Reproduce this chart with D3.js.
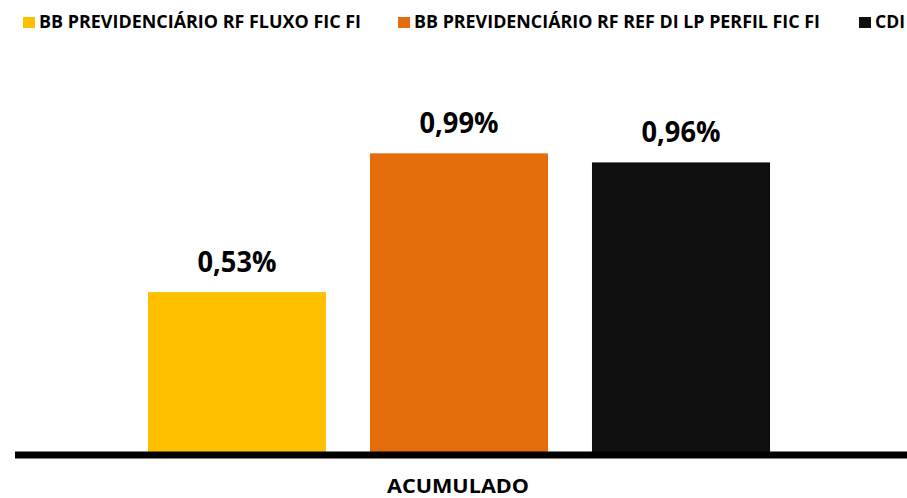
<!DOCTYPE html>
<html>
<head>
<meta charset="utf-8">
<script src="https://cdn.jsdelivr.net/npm/d3@7"></script>
<style>
  body { margin: 0; background: #fff; }
  svg { display: block; font-family: "Open Sans", "Liberation Sans", sans-serif; }
</style>
</head>
<body>
<div id="chart"></div>
<script>
const categories = ['ACUMULADO'];
const seriesNames = ['BB PREVIDENCIÁRIO RF FLUXO FIC FI', 'BB PREVIDENCIÁRIO RF REF DI LP PERFIL FIC FI', 'CDI'];
const seriesValues = [0.53, 0.99, 0.96];
const seriesColors = ['#FFC000', '#E46C0A', '#0F0F0F'];

const width = 907, height = 498;
const svg = d3.select('#chart').append('svg')
    .attr('width', width)
    .attr('height', height);

const x0 = d3.scaleBand()
    .domain(categories)
    .range([15, 907]);

const x1 = d3.scaleBand()
    .domain(seriesNames)
    .range([126, 792])
    .paddingInner(0.198)
    .paddingOuter(0.099);

const y = d3.scaleLinear()
    .domain([0, 1.2])
    .range([452, 90]);

const fmt = v => d3.format('.2f')(v).replace('.', ',') + '%';

// bars
svg.append('g').selectAll('rect')
    .data(seriesValues)
    .join('rect')
    .attr('x', (d, i) => x1(seriesNames[i]))
    .attr('y', d => y(d))
    .attr('width', x1.bandwidth())
    .attr('height', d => y(0) - y(d))
    .attr('fill', (d, i) => seriesColors[i]);

// value labels
svg.append('g').selectAll('text')
    .data(seriesValues)
    .join('text')
    .attr('x', (d, i) => x1(seriesNames[i]) + x1.bandwidth() / 2)
    .attr('y', d => y(d) - 20)
    .attr('text-anchor', 'middle')
    .attr('font-size', 29)
    .attr('font-weight', 'bold')
    .attr('fill', '#000')
    .attr('textLength', 79)
    .attr('lengthAdjust', 'spacingAndGlyphs')
    .text(d => fmt(d));

// baseline
svg.append('line')
    .attr('x1', x0.range()[0])
    .attr('x2', x0.range()[1])
    .attr('y1', y(0) + 3)
    .attr('y2', y(0) + 3)
    .attr('stroke', '#000')
    .attr('stroke-width', 7);

// category label
svg.append('g').selectAll('text')
    .data(categories)
    .join('text')
    .attr('x', 458)
    .attr('y', 493)
    .attr('text-anchor', 'middle')
    .attr('font-size', 20)
    .attr('font-weight', 'bold')
    .attr('textLength', 142)
    .attr('lengthAdjust', 'spacingAndGlyphs')
    .text(d => d);

// legend
const legendX = [23, 398, 859];
const legendW = [322, 406, 30];
const legend = svg.append('g').selectAll('g')
    .data(seriesNames)
    .join('g')
    .attr('transform', (d, i) => `translate(${legendX[i]},16)`);

legend.append('rect')
    .attr('y', 1)
    .attr('width', 12)
    .attr('height', 11)
    .attr('fill', (d, i) => seriesColors[i]);

legend.append('text')
    .attr('x', 16)
    .attr('y', 12)
    .attr('font-size', 17)
    .attr('font-weight', 'bold')
    .attr('textLength', (d, i) => legendW[i])
    .attr('lengthAdjust', 'spacingAndGlyphs')
    .text(d => d);
</script>
</body>
</html>
